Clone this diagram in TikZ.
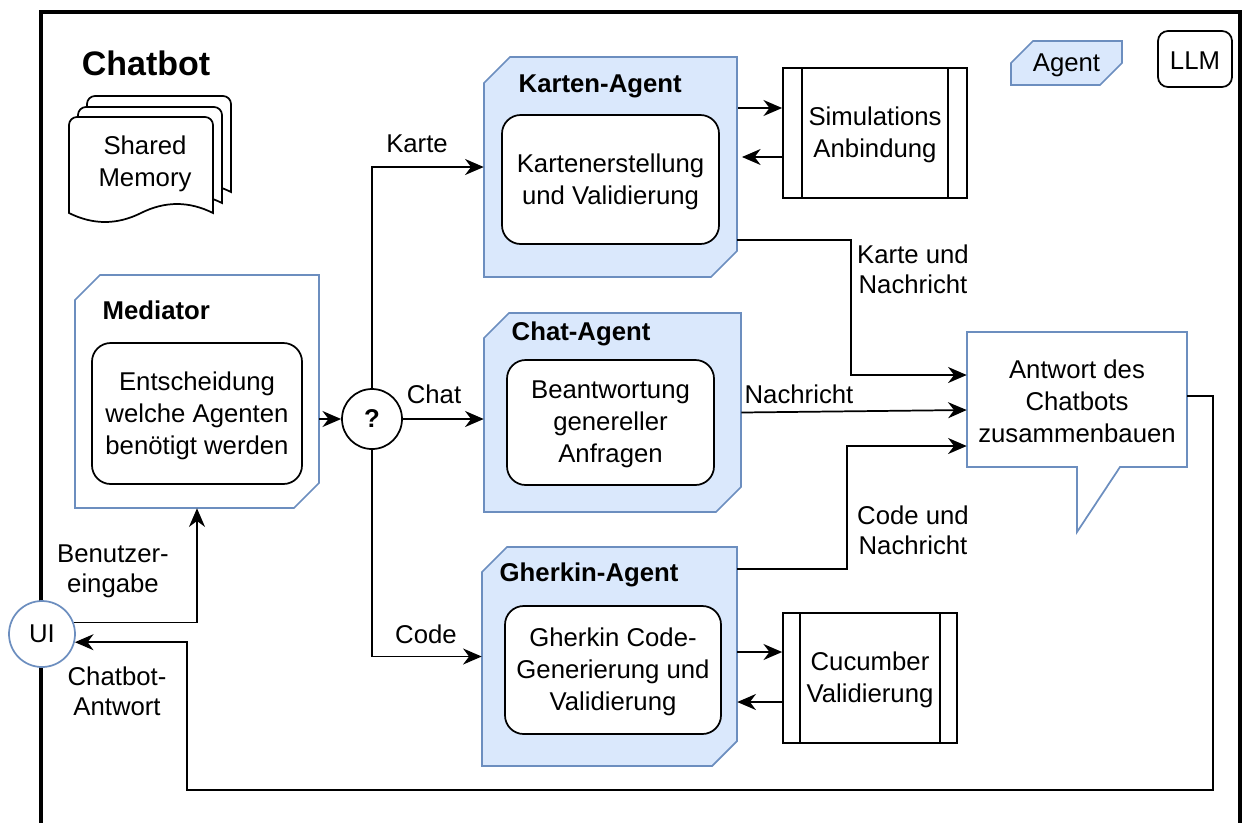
\documentclass[tikz,border=0pt]{standalone}
\usepackage{fontspec}
\setmainfont{Liberation Sans}
\usetikzlibrary{arrows.meta,calc,fit}
\definecolor{agentfill}{HTML}{DAE8FC}
\definecolor{agentline}{HTML}{6C8EBF}
% #1 style, #2 name, #3 x1, #4 y1, #5 x2, #6 y2, #7 cut
\newcommand\cutbox[7]{%
  \draw[#1] ({#3+#7},#4) -- (#5,#4) -- (#5,{#6-#7}) -- ({#5-#7},#6) -- (#3,#6) -- (#3,{#4+#7}) -- cycle;
  \node[fit={(#3,#4)(#5,#6)},inner sep=0pt] (#2) {};}
% document shape, top-left #1,#2
\newcommand\docshape[2]{%
  \draw[docstyle] (#1,{#2+96}) -- (#1,{#2+8}) .. controls (#1,{#2+3.6}) and ({#1+3.6},#2) .. ({#1+8},#2)
   -- ({#1+136},#2) .. controls ({#1+140.4},#2) and ({#1+144},{#2+3.6}) .. ({#1+144},{#2+8})
   -- ({#1+144},{#2+96}) .. controls ({#1+120},{#2+84}) and ({#1+96},{#2+84}) .. ({#1+72},{#2+96})
   .. controls ({#1+48},{#2+108}) and ({#1+24},{#2+108}) .. (#1,{#2+96}) -- cycle;}
\begin{document}
\begin{tikzpicture}[x=0.75pt,y=-0.75pt,
  font=\fontsize{19.3pt}{24pt}\selectfont,
  arr/.style={line width=1.3pt,-{Stealth[length=14pt,width=12pt,inset=4.5pt]}},
  agent/.style={draw=agentline,fill=agentfill,line width=1.3pt},
  medstyle/.style={draw=agentline,fill=white,line width=1.3pt},
  inner/.style={draw,line width=1.3pt,rounded corners=14pt,fill=white,inner sep=0pt},
  proc/.style={draw,line width=1.3pt,fill=white,inner sep=0pt},
  txt/.style={align=center,inner sep=0pt,yshift=-1.5pt},
  docstyle/.style={draw,line width=1.3pt,fill=white},
  lbl/.style={align=center,font=\fontsize{19.3pt}{22.5pt}\selectfont},
  ttl/.style={anchor=west,font=\fontsize{19.3pt}{24pt}\selectfont\bfseries}]
\useasboundingbox (0,0) rectangle (1248,822);
% outer frame
\draw[line width=3pt] (40.5,830) -- (40.5,12) -- (1240,12) -- (1240,830);
% title
\node[font=\fontsize{25.5pt}{30pt}\selectfont\bfseries] (title) at (146,63) {Chatbot};
% shared memory
\docshape{87}{96}
\docshape{78}{107}
\docshape{69}{117}
\node[txt] (mem) at (145,162) {Shared\\Memory};
% legend
\cutbox{agent}{legagent}{1011}{41}{1122}{85}{22}
\node[txt] (legagenttext) at (legagent.center) {Agent};
\node[draw,line width=1.3pt,rounded corners=7.5pt,fit={(1158,31)(1232,87)},inner sep=0pt] (llm) {};
\node[txt] (llmtext) at (llm.center) {LLM};
% mediator
\cutbox{medstyle}{mediator}{75}{275}{319}{508}{25}
\node[ttl] (medtitle) at (98,310) {Mediator};
\node[inner,fit={(92,343)(302,484)}] (medinner) {};
\node[txt] (medtext) at (medinner.center) {Entscheidung\\welche Agenten\\benötigt werden};
% karten agent
\cutbox{agent}{karten}{484}{57}{737}{277}{26}
\node[ttl] (kartentitle) at (514,86) {Karten-Agent};
\node[inner,fit={(502,115)(719,244)}] (karteninner) {};
\node[txt] (kartentext) at (karteninner.center) {Kartenerstellung\\und Validierung};
% simulation
\node[proc,fit={(783,68)(967,198)}] (sim) {};
\node[txt] (simtext) at (sim.center) {Simulations\\Anbindung};
\draw[line width=1.3pt] ($(sim.north west)+(20,0)$) -- ($(sim.south west)+(20,0)$);
\draw[line width=1.3pt] ($(sim.north east)+(-20,0)$) -- ($(sim.south east)+(-20,0)$);
% chat agent
\cutbox{agent}{chat}{484}{313}{741}{512}{25}
\node[ttl] (chattitle) at (507,334) {Chat-Agent};
\node[inner,fit={(507,360)(714,485)}] (chatinner) {};
\node[txt] (chattext) at (chatinner.center) {Beantwortung\\genereller\\Anfragen};
% gherkin agent
\cutbox{agent}{gherkin}{482}{547}{737}{766}{25}
\node[ttl] (gherkintitle) at (495,575) {Gherkin-Agent};
\node[inner,fit={(505,606)(721,734)}] (gherkininner) {};
\node[txt] (gherkintext) at (gherkininner.center) {Gherkin Code-\\Generierung und\\Validierung};
% cucumber
\node[proc,fit={(783,613)(957,743)}] (cuc) {};
\node[txt] (cuctext) at (cuc.center) {Cucumber\\Validierung};
\draw[line width=1.3pt] ($(cuc.north west)+(18,0)$) -- ($(cuc.south west)+(18,0)$);
\draw[line width=1.3pt] ($(cuc.north east)+(-18,0)$) -- ($(cuc.south east)+(-18,0)$);
% decision
\node[draw,circle,line width=1.3pt,minimum size=45pt,inner sep=0pt,fill=white,font=\fontsize{19.3pt}{24pt}\selectfont\bfseries] (q) at (372,419) {?};
% UI
\node[draw=agentline,fill=white,circle,line width=1.3pt,minimum size=49.5pt,inner sep=0pt] (ui) at (42,634) {UI};
% speech bubble
\draw[draw=agentline,fill=white,line width=1.3pt] (967,332) -- (1187,332) -- (1187,467) -- (1120,467) -- (1077,532) -- (1077,467) -- (967,467) -- cycle;
\node[fit={(967,332)(1187,467)},inner sep=0pt] (bubble) {};
\node[txt] (bubbletext) at (1077,399) {Antwort des\\Chatbots\\zusammenbauen};
% connectors
\draw[arr] (mediator.east |- q.west) -- (q.west);
\draw[arr] (q.east) -- (chat.west |- q.east);
\draw[arr] (q.north) |- (karten.west);
\draw[arr] (q.south) |- (gherkin.west);
\coordinate (ks1) at ($(karten.east)+(1,-59)$);
\draw[arr] (ks1) -- (sim.west |- ks1);
\coordinate (ks2) at ($(sim.west)+(0,24)$);
\draw[arr,shorten >=3.5pt] (ks2) -- (karten.east |- ks2);
\coordinate (gc1) at ($(cuc.west)+(0,-26)$);
\draw[arr] (gherkin.east |- gc1) -- (gc1);
\coordinate (gc2) at ($(cuc.west)+(0,24)$);
\draw[arr] (gc2) -- (gherkin.east |- gc2);
\draw[arr] ($(karten.east)+(0,73)$) -- ++(114,0) |- ($(bubble.west)+(0,-24.5)$);
\draw[arr] (chat.east) -- ($(bubble.west)+(0,10.5)$);
\draw[arr] ($(gherkin.east)+(0,-87.5)$) -- ++(110,0) |- ($(bubble.west)+(0,46.5)$);
\draw[arr] (ui.20) -| (mediator.south);
\coordinate (retcorner) at (187,790);
\draw[arr] ($(bubble.east)+(0,-3.5)$) -- ++(26,0) |- (retcorner) |- (ui.-14);
% edge labels
\node (lkarte) at (417,144) {Karte};
\node (lchat) at (434,394) {Chat};
\node (lcode) at (426,634) {Code};
\node (lnach) at (799,394) {Nachricht};
\node[lbl] (lkn) at (913,269) {Karte und\\Nachricht};
\node[lbl] (lcn) at (913,530) {Code und\\Nachricht};
\node[lbl] (lbe) at (113,571) {Benutzer-\\eingabe};
\node[lbl] (lca) at (117,691) {Chatbot-\\Antwort};
\end{tikzpicture}
\end{document}
